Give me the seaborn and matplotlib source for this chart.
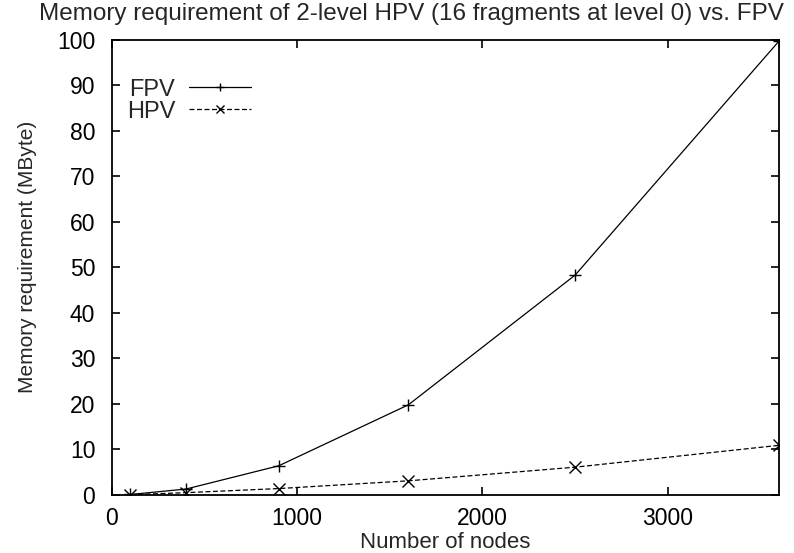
import numpy as np
import pandas as pd
import seaborn as sns
import matplotlib.pyplot as plt

nodes = [100, 400, 900, 1600, 2500, 3600]
fpv = [0.1, 1.3, 6.4, 19.8, 48.3, 99.7]
hpv = [0.05, 0.5, 1.4, 3.1, 6.1, 10.9]
x_ticks = [0, 1000, 2000, 3000]
y_ticks = list(range(0, 101, 10))

df = pd.DataFrame({
    "nodes": nodes * 2,
    "mem": fpv + hpv,
    "kind": ["FPV"] * len(nodes) + ["HPV"] * len(nodes),
})

sns.set_style("ticks")
plt.rcParams["font.family"] = ["Liberation Sans", "DejaVu Sans"]

fig, ax = plt.subplots(figsize=(7.94, 5.53), dpi=100)
sns.lineplot(
    data=df, x="nodes", y="mem", hue="kind", style="kind",
    palette={"FPV": "black", "HPV": "black"},
    dashes={"FPV": "", "HPV": (4, 2)},
    markers={"FPV": "+", "HPV": "x"},
    markersize=8, markeredgewidth=1.0, markeredgecolor="black",
    linewidth=0.9, ax=ax,
)

ax.set_xlim(0, 3600)
ax.set_ylim(0, 100)
ax.set_xticks(x_ticks)
ax.set_yticks(y_ticks)
ax.tick_params(direction="in", top=True, right=True, length=6, width=1.2,
               labelsize=16.5, colors="black")
ax.tick_params(axis="y", pad=12)
ax.tick_params(axis="x", pad=9)
for s in ax.spines.values():
    s.set_linewidth(1.3)
    s.set_color("black")

ax.set_xlabel("Number of nodes", fontsize=16)
ax.xaxis.set_label_coords(0.5, -0.082)
ax.set_ylabel("Memory requirement (MByte)", fontsize=15)
ax.yaxis.set_label_coords(-0.113, 0.523)
fig.text(0.518, 0.975, "Memory requirement of 2-level HPV (16 fragments at level 0) vs. FPV",
         fontsize=17.5, ha="center", va="center")

leg = ax.legend(loc="upper left", frameon=False, fontsize=17, markerfirst=False,
                bbox_to_anchor=(0.022, 0.915), handlelength=2.6, labelspacing=0.0,
                handletextpad=0.6, borderpad=0, borderaxespad=0, markerscale=0.7)
leg.set_title(None)

fig.subplots_adjust(left=0.141, right=0.981, top=0.928, bottom=0.105)
fig.savefig("out.png", dpi=100)
